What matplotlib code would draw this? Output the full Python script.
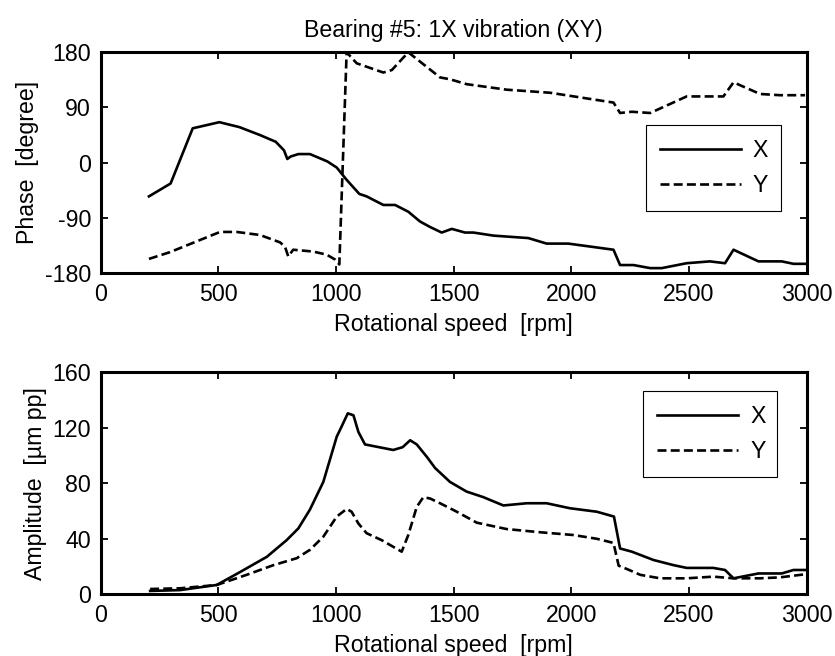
import matplotlib
matplotlib.use("Agg")
import matplotlib.pyplot as plt

plt.rcParams["font.family"] = ["Liberation Sans", "DejaVu Sans"]
plt.rcParams["axes.unicode_minus"] = False

# phase vs speed
PX_RPM = [205, 297, 391, 504, 589, 677, 744, 779, 793, 807, 840, 889, 963, 1003, 1045,
          1099, 1130, 1201, 1251, 1307, 1357, 1400, 1449, 1492, 1548, 1584, 1669, 1817,
          1895, 1987, 2179, 2207, 2264, 2335, 2384, 2490, 2589, 2653, 2689, 2795, 2894,
          2944, 2993]
PX_DEG = [-55, -34, 56, 66, 58, 45, 34, 20, 6, 10, 14, 14, 2, -8, -28,
          -51, -55, -69, -69, -80, -96, -105, -114, -108, -114, -114, -119, -123,
          -132, -132, -142, -167, -167, -172, -172, -164, -161, -164, -142, -161, -161,
          -165, -165]

PY_RPM = [205, 294, 507, 578, 677, 762, 783, 797, 818, 903, 960, 996, 1014, 1045, 1088,
          1201, 1237, 1307, 1442, 1484, 1555, 1725, 1910, 2179, 2207, 2257, 2335, 2490,
          2646, 2689, 2802, 2887, 2993]
PY_DEG = [-157, -146, -113, -113, -118, -130, -137, -153, -142, -145, -150, -158, -166, 180, 162,
          147, 151, 180, 139, 136, 128, 119, 114, 98, 81, 83, 81, 108,
          108, 131, 112, 110, 110]

# amplitude vs speed
AX_RPM = [210, 337, 493, 592, 706, 790, 840, 889, 946, 1003, 1024, 1050, 1074, 1095, 1123,
          1243, 1283, 1315, 1343, 1386, 1421, 1484, 1555, 1626, 1711, 1810, 1895, 1994,
          2108, 2181, 2207, 2257, 2349, 2434, 2490, 2603, 2653, 2689, 2795, 2894, 2944, 2993]
AX_AMP = [2.4, 3, 6.7, 16, 27, 39, 47.5, 61, 81, 113.6, 121, 130.4, 129, 117, 108,
          104, 106, 111, 108, 99, 91, 81, 74, 70, 64, 65.6, 65.6, 62,
          59.5, 56, 33, 30.7, 24.7, 21, 19, 19, 17.5, 11.5, 15, 15, 17.5, 17.5]

AY_RPM = [210, 337, 493, 620, 734, 833, 889, 946, 1003, 1045, 1066, 1095, 1130, 1194, 1279,
          1307, 1343, 1371, 1400, 1442, 1513, 1598, 1725, 1867, 2009, 2108, 2179, 2201,
          2236, 2293, 2377, 2490, 2603, 2689, 2802, 2887, 2993]
AY_AMP = [3.8, 4.3, 6.7, 14, 21, 26, 32, 41.5, 56, 61.5, 59.5, 51, 44, 39, 30.7,
          42.7, 63, 70, 69, 65.6, 59.5, 51.6, 47, 44.7, 42.7, 40, 37, 20.6,
          18.2, 14, 11.5, 11.5, 12.7, 11.5, 11.5, 12.2, 14.4]

X_TICKS = [0, 500, 1000, 1500, 2000, 2500, 3000]
PHASE_TICKS = [-180, -90, 0, 90, 180]
AMP_TICKS = [0, 40, 80, 120, 160]

FS = 16.7
LW = 1.9
DASH = (0, (3.4, 1.6))


def style_axes(ax):
    for sp in ax.spines.values():
        sp.set_linewidth(2.2)
    ax.tick_params(direction="in", length=5, width=1.3, top=True, right=True,
                   labelsize=FS, pad=7)
    ax.set_xlim(0, 3000)
    ax.set_xticks(X_TICKS)
    ax.set_xlabel("Rotational speed  [rpm]", fontsize=FS, labelpad=5)


def legend(ax, box):
    leg = ax.legend(loc="upper left", bbox_to_anchor=box, mode="expand", fontsize=FS,
                    frameon=True, fancybox=False, framealpha=1, edgecolor="black",
                    handlelength=3.5, handletextpad=0.5, labelspacing=0.5,
                    borderpad=0.62, borderaxespad=0)
    leg.get_frame().set_linewidth(0.8)


fig = plt.figure(figsize=(8.35, 6.56), dpi=100)
ax1 = fig.add_axes([0.1206, 0.5838, 0.8455, 0.3365])
ax2 = fig.add_axes([0.1206, 0.0941, 0.8455, 0.3384])

ax1.plot(PX_RPM, PX_DEG, color="black", lw=LW, label="X")
ax1.plot(PY_RPM, PY_DEG, color="black", lw=LW, linestyle=DASH, label="Y")
style_axes(ax1)
ax1.set_ylim(-180, 180)
ax1.set_yticks(PHASE_TICKS)
ax1.set_ylabel("Phase  [degree]", fontsize=FS)
ax1.set_title("Bearing #5: 1X vibration (XY)", fontsize=FS, pad=11)
legend(ax1, (0.772, 0.671, 0.191, 0.0))

ax2.plot(AX_RPM, AX_AMP, color="black", lw=LW, label="X")
ax2.plot(AY_RPM, AY_AMP, color="black", lw=LW, linestyle=DASH, label="Y")
style_axes(ax2)
ax2.set_ylim(0, 160)
ax2.set_yticks(AMP_TICKS)
ax2.set_ylabel("Amplitude  [\u00b5m pp]", fontsize=FS)
legend(ax2, (0.768, 0.917, 0.190, 0.0))

fig.savefig("out.png", dpi=100, facecolor="white")
